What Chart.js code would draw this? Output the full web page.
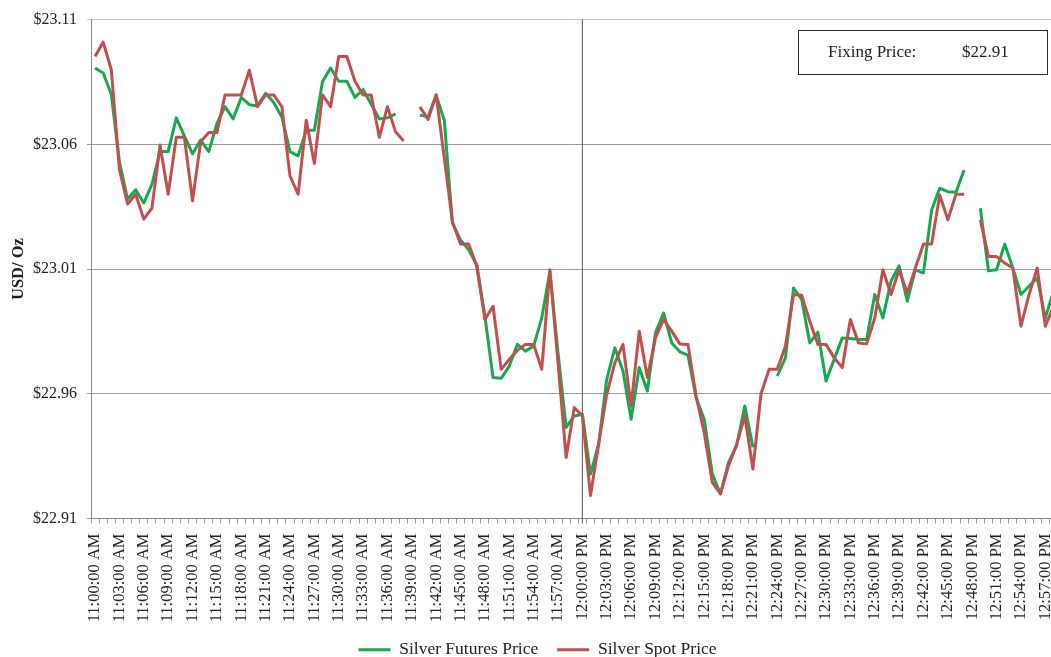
<!DOCTYPE html>
<html>
<head>
<meta charset="utf-8">
<title>Silver Futures vs Spot</title>
<script src="https://cdn.jsdelivr.net/npm/chart.js@4.4.1/dist/chart.umd.min.js"></script>
<style>
  html, body { margin: 0; padding: 0; background: #fff; overflow: hidden; }
  #wrap { width: 1051px; height: 657px; position: relative; }
</style>
</head>
<body>
<div id="wrap"><canvas id="silverChart"></canvas></div>
<script>
// minute categories, 11:00 AM .. 12:58 PM
const times = [
  '11:00:00 AM','11:01:00 AM','11:02:00 AM','11:03:00 AM','11:04:00 AM','11:05:00 AM','11:06:00 AM','11:07:00 AM','11:08:00 AM','11:09:00 AM',
  '11:10:00 AM','11:11:00 AM','11:12:00 AM','11:13:00 AM','11:14:00 AM','11:15:00 AM','11:16:00 AM','11:17:00 AM','11:18:00 AM','11:19:00 AM',
  '11:20:00 AM','11:21:00 AM','11:22:00 AM','11:23:00 AM','11:24:00 AM','11:25:00 AM','11:26:00 AM','11:27:00 AM','11:28:00 AM','11:29:00 AM',
  '11:30:00 AM','11:31:00 AM','11:32:00 AM','11:33:00 AM','11:34:00 AM','11:35:00 AM','11:36:00 AM','11:37:00 AM','11:38:00 AM','11:39:00 AM',
  '11:40:00 AM','11:41:00 AM','11:42:00 AM','11:43:00 AM','11:44:00 AM','11:45:00 AM','11:46:00 AM','11:47:00 AM','11:48:00 AM','11:49:00 AM',
  '11:50:00 AM','11:51:00 AM','11:52:00 AM','11:53:00 AM','11:54:00 AM','11:55:00 AM','11:56:00 AM','11:57:00 AM','11:58:00 AM','11:59:00 AM',
  '12:00:00 PM','12:01:00 PM','12:02:00 PM','12:03:00 PM','12:04:00 PM','12:05:00 PM','12:06:00 PM','12:07:00 PM','12:08:00 PM','12:09:00 PM',
  '12:10:00 PM','12:11:00 PM','12:12:00 PM','12:13:00 PM','12:14:00 PM','12:15:00 PM','12:16:00 PM','12:17:00 PM','12:18:00 PM','12:19:00 PM',
  '12:20:00 PM','12:21:00 PM','12:22:00 PM','12:23:00 PM','12:24:00 PM','12:25:00 PM','12:26:00 PM','12:27:00 PM','12:28:00 PM','12:29:00 PM',
  '12:30:00 PM','12:31:00 PM','12:32:00 PM','12:33:00 PM','12:34:00 PM','12:35:00 PM','12:36:00 PM','12:37:00 PM','12:38:00 PM','12:39:00 PM',
  '12:40:00 PM','12:41:00 PM','12:42:00 PM','12:43:00 PM','12:44:00 PM','12:45:00 PM','12:46:00 PM','12:47:00 PM','12:48:00 PM','12:49:00 PM',
  '12:50:00 PM','12:51:00 PM','12:52:00 PM','12:53:00 PM','12:54:00 PM','12:55:00 PM','12:56:00 PM','12:57:00 PM','12:58:00 PM'
];

// null = no quote that minute (gap in the line)
const futuresPrice = [
  23.0906, 23.0886, 23.0801, 23.0530, 23.0381, 23.0418, 23.0365, 23.0440, 23.0571, 23.0571,
  23.0706, 23.0633, 23.0562, 23.0617, 23.0571, 23.0683, 23.0751, 23.0702, 23.0788, 23.0759,
  23.0754, 23.0805, 23.0768, 23.0709, 23.0571, 23.0554, 23.0656, 23.0656, 23.0851, 23.0906,
  23.0853, 23.0853, 23.0788, 23.0820, 23.0761, 23.0702, 23.0706, 23.0722, null,    null,
  23.0717, 23.0710, 23.0796, 23.0696, 23.0284, 23.0217, 23.0177, 23.0117, 22.9911, 22.9665,
  22.9662, 22.9711, 22.9798, 22.9771, 22.9791, 22.9904, 23.0090, 22.9765, 22.9465, 22.9511,
  22.9518, 22.9278, 22.9398, 22.9658, 22.9784, 22.9691, 22.9498, 22.9705, 22.9611, 22.9844,
  22.9924, 22.9804, 22.9768, 22.9755, 22.9585, 22.9498, 22.9278, 22.9199, 22.9325, 22.9392,
  22.9551, 22.9385, null,    null,    22.9671, 22.9744, 23.0024, 22.9978, 22.9804, 22.9847,
  22.9651, 22.9738, 22.9824, 22.9822, 22.9818, 22.9818, 22.9998, 22.9904, 23.0051, 23.0113,
  22.9971, 23.0097, 23.0084, 23.0337, 23.0424, 23.0410, 23.0408, 23.0497, null,    23.0344,
  23.0093, 23.0097, 23.0200, 23.0104, 22.9998, 23.0031, 23.0064, 22.9904, 23.0010
];

const spotPrice = [
  23.0952, 23.1010, 23.0899, 23.0499, 23.0361, 23.0400, 23.0300, 23.0344, 23.0597, 23.0400,
  23.0628, 23.0628, 23.0374, 23.0610, 23.0647, 23.0647, 23.0798, 23.0798, 23.0798, 23.0897,
  23.0751, 23.0798, 23.0798, 23.0751, 23.0473, 23.0400, 23.0696, 23.0523, 23.0798, 23.0751,
  23.0952, 23.0952, 23.0853, 23.0798, 23.0798, 23.0628, 23.0751, 23.0650, 23.0613, null,
  23.0750, 23.0700, 23.0799, 23.0545, 23.0290, 23.0200, 23.0200, 23.0110, 22.9898, 22.9951,
  22.9698, 22.9738, 22.9774, 22.9798, 22.9798, 22.9698, 23.0097, 22.9726, 22.9345, 22.9545,
  22.9511, 22.9192, 22.9398, 22.9598, 22.9724, 22.9798, 22.9551, 22.9851, 22.9665, 22.9824,
  22.9898, 22.9851, 22.9800, 22.9798, 22.9591, 22.9445, 22.9245, 22.9199, 22.9312, 22.9398,
  22.9511, 22.9298, 22.9601, 22.9698, 22.9698, 22.9791, 22.9998, 22.9995, 22.9891, 22.9798,
  22.9798, 22.9744, 22.9705, 22.9898, 22.9804, 22.9800, 22.9904, 23.0097, 22.9998, 23.0097,
  23.0004, 23.0104, 23.0200, 23.0200, 23.0397, 23.0297, 23.0400, 23.0400, null,    23.0297,
  23.0150, 23.0150, 23.0124, 23.0104, 22.9871, 22.9998, 23.0104, 22.9871, 22.9950
];

const yTicks = [22.91, 22.96, 23.01, 23.06, 23.11];
const fixingLabel = 'Fixing Price:';
const fixingPrice = '$22.91';
const noonIndex = 60;

const GREEN = '#18a94f';
const RED = '#c0504d';
const FONT = '"Liberation Serif", "DejaVu Serif", serif';

Chart.defaults.font.family = FONT;
Chart.defaults.color = '#222';

// the boxed fixing price in the top right corner
const fixingBox = {
  id: 'fixingBox',
  afterDraw(chart) {
    const {ctx, chartArea} = chart;
    const w = 249, h = 44;
    const x = chartArea.right - 253;
    const y = chartArea.top + 10;
    ctx.save();
    ctx.fillStyle = '#fff';
    ctx.fillRect(x, y, w, h);
    ctx.strokeStyle = '#2b2b2b';
    ctx.lineWidth = 1;
    ctx.strokeRect(Math.round(x) + 0.5, Math.round(y) + 0.5, w, h);
    ctx.fillStyle = '#222';
    ctx.font = '17px ' + FONT;
    ctx.textBaseline = 'middle';
    ctx.fillText(fixingLabel, x + 30, y + h / 2 + 1);
    ctx.fillText(fixingPrice, x + 164, y + h / 2 + 1);
    ctx.restore();
  }
};

const toPoints = arr => arr.map((v, i) => ({x: i, y: v}));

new Chart(document.getElementById('silverChart'), {
  type: 'line',
  data: {
    datasets: [
      {
        label: 'Silver Futures Price',
        data: toPoints(futuresPrice),
        borderColor: GREEN,
        backgroundColor: GREEN,
        borderWidth: 3,
        borderJoinStyle: 'round',
        pointRadius: 0,
        tension: 0,
        spanGaps: false,
        order: 1
      },
      {
        label: 'Silver Spot Price',
        data: toPoints(spotPrice),
        borderColor: RED,
        backgroundColor: RED,
        borderWidth: 3,
        borderJoinStyle: 'round',
        pointRadius: 0,
        tension: 0,
        spanGaps: false,
        order: 0
      },
      {
        // noon marker
        label: 'noon',
        data: [{x: noonIndex, y: 22.908}, {x: noonIndex, y: 23.11}],
        borderColor: '#555',
        borderWidth: 1,
        pointRadius: 0,
        clip: false,
        order: 2
      }
    ]
  },
  options: {
    responsive: true,
    maintainAspectRatio: false,
    animation: false,
    devicePixelRatio: 1,
    // left padding nudges the centred legend right; the y axis width makes up for it
    layout: { padding: { top: 17, left: 24, right: 0, bottom: -11.5 } },
    plugins: {
      tooltip: { enabled: false },
      legend: {
        position: 'bottom',
        labels: {
          usePointStyle: true,
          pointStyle: 'line',
          pointStyleWidth: 32,
          padding: 19,
          font: { size: 17.5, family: FONT },
          color: '#222',
          filter: item => item.datasetIndex < 2,
          sort: (a, b) => a.datasetIndex - b.datasetIndex
        }
      }
    },
    scales: {
      x: {
        type: 'linear',
        min: -0.5,
        max: 117.7,
        afterBuildTicks: s => {
          s.ticks = times.map((t, i) => ({value: i})).filter(t => t.value <= s.max);
        },
        afterFit: s => {
          s.height = 103.5;
          s.paddingLeft = 0;
          s.paddingRight = 0;
        },
        ticks: {
          autoSkip: false,
          minRotation: 90,
          maxRotation: 90,
          padding: 10,
          color: '#222',
          font: { size: 16.5, family: FONT },
          callback: v => (v % 3 === 0 ? times[v] : '')
        },
        grid: {
          drawOnChartArea: false,
          drawTicks: true,
          tickLength: 5,
          offset: true,
          color: '#9a9a9a'
        },
        border: { color: '#8a8a8a', width: 1 }
      },
      y: {
        min: 22.91,
        max: 23.11,
        afterBuildTicks: s => {
          s.ticks = yTicks.map(v => ({value: v}));
        },
        afterFit: s => { s.width = 67; },
        ticks: {
          padding: 10,
          color: '#222',
          font: { size: 16, family: FONT },
          callback: v => '$' + Number(v).toFixed(2)
        },
        grid: {
          tickLength: 4,
          color: c => (c.tick && c.tick.value === 23.11 ? '#c6c6c6' : '#9a9a9a')
        },
        border: { color: '#8a8a8a', width: 1 },
        title: {
          display: true,
          text: 'USD/ Oz',
          color: '#222',
          font: { size: 16.5, weight: 'bold', family: FONT },
          padding: { top: -15, bottom: 0 }
        }
      }
    }
  },
  plugins: [fixingBox]
});
</script>
</body>
</html>
